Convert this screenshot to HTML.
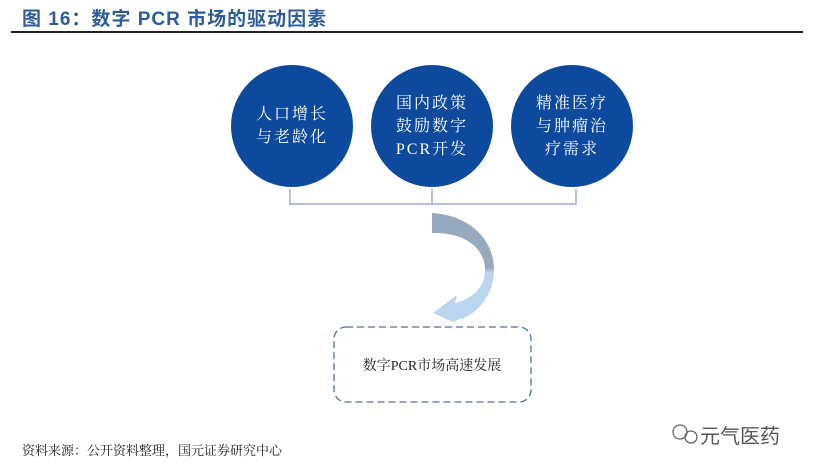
<!DOCTYPE html>
<html><head><meta charset="utf-8"><style>
body{margin:0;width:815px;height:469px;background:#fff;position:relative;overflow:hidden;font-family:"Liberation Sans","Noto Sans CJK SC",sans-serif}
.t{position:absolute;left:22px;top:4px;font-size:19px;font-weight:bold;color:#2e5c9a;letter-spacing:1px}
.line{position:absolute;left:11px;top:31px;width:792px;height:2px;background:#222}
.c{position:absolute;width:122px;height:122px;border-radius:50%;background:#0d4a9e;color:#fff;font-family:"Liberation Serif","Noto Serif CJK SC",serif;font-size:16px;line-height:23px;display:flex;align-items:center;justify-content:center;text-align:center;letter-spacing:2px}
.f{position:absolute;left:22px;top:440px;font-size:13px;color:#222;font-family:"Liberation Serif","Noto Serif CJK SC",serif}
.w{position:absolute;left:700px;top:420px;font-size:20px;color:#555}
</style></head><body>
<div class="t">图 16：数字 PCR 市场的驱动因素</div>
<div class="line"></div>
<div class="c" style="left:231px;top:65px">人口增长<br>与老龄化</div>
<div class="c" style="left:371px;top:65px">国内政策<br>鼓励数字<br>PCR开发</div>
<div class="c" style="left:511px;top:65px">精准医疗<br>与肿瘤治<br>疗需求</div>
<svg width="815" height="469" style="position:absolute;left:0;top:0">
<path d="M290 189V204H576V189M432 189V204" fill="none" stroke="#7f9ccb" stroke-width="1.2"/>
<defs><linearGradient id="g" x1="0" y1="0" x2="0" y2="1"><stop offset="0.5" stop-color="#97a9bd"/><stop offset="0.55" stop-color="#bcd5ee"/></linearGradient></defs>
<path d="M432 213C470 216 494 240 494 270C494 300 470 312 455 313L457 298L433 313L453 320L455 316C485 314 498 295 495 270" fill="none"/>
<path d="M432 213C468 215 494 238 494 270C494 296 476 316 457 320L453 322L433 313L457 295L455 303C475 298 485 285 485 270C485 246 462 232 432 233Z" fill="url(#g)"/>
<rect x="334" y="327" width="197" height="75" rx="12" fill="none" stroke="#4a6fa5" stroke-width="1.3" stroke-dasharray="7,4"/>
<text x="432" y="370" text-anchor="middle" font-size="14" fill="#222" font-family="Liberation Serif,Noto Serif CJK SC,serif">数字PCR市场高速发展</text>
<circle cx="680" cy="432" r="7" fill="none" stroke="#666" stroke-width="1.3"/><circle cx="691" cy="437" r="6" fill="none" stroke="#666" stroke-width="1.3"/>
</svg>
<div class="w">元气医药</div>
<div class="f">资料来源：公开资料整理，国元证券研究中心</div>
</body></html>
